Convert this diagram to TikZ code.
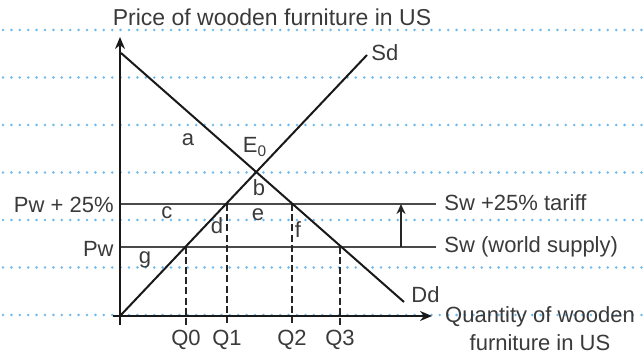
\documentclass[tikz,border=0pt]{standalone}
\usepackage{fontspec}
\setmainfont{Liberation Sans}
\usetikzlibrary{positioning,arrows.meta,calc}
\definecolor{DotBlue}{HTML}{6FB8EC}
\definecolor{InkGrey}{HTML}{3A3A3A}
\definecolor{PriceGrey}{HTML}{4A4A4A}

\begin{document}
\begin{tikzpicture}[
	x=0.5pt, y=-0.5pt,
	guide/.style={
		draw=DotBlue,
		line width=1.4pt,
		line cap=round,
		dash pattern=on 0pt off 4.2pt
	},
	curve/.style={
		draw=black!90,
		line width=1pt
	},
	axis/.style={
		draw=black!90,
		line width=0.9pt,
		-{Stealth[length=6pt,width=5pt]}
	},
	price/.style={
		draw=PriceGrey,
		line width=0.9pt
	},
	drop/.style={
		draw=black!85,
		line width=0.8pt,
		dash pattern=on 3.5pt off 1.6pt
	},
	lbl/.style={
		text=InkGrey,
		inner sep=1pt,
		font=\fontsize{11}{14}\selectfont
	}
	]
	
	\useasboundingbox (0,0) rectangle (644,358);
	
	% ruled background
	\foreach \gy in {30,77.5,125,172.5,220,267.5,315}
		\draw[guide] (3,\gy) -- (644,\gy);
	
	% points
	\coordinate (ybot) at (120,325);
	\coordinate (ytop) at (120,37);
	\coordinate (xleft) at (113,316);
	\coordinate (xright) at (432,316);
	\coordinate (origin) at (120,316);
	\coordinate (dtop) at (121,53);
	\coordinate (dbot) at (404,302);
	\coordinate (stop) at (367,55);
	\coordinate (pwl) at (120,246.7);
	\coordinate (pwr) at (436,246.7);
	\coordinate (ptl) at (120,204);
	\coordinate (ptr) at (436,204);
	\coordinate (q0top) at (186,246.7);
	\coordinate (q1top) at (227,204);
	\coordinate (q2top) at (292,204);
	\coordinate (q3top) at (340,246.7);
	\coordinate (q0bot) at (186,325);
	\coordinate (q1bot) at (227,325);
	\coordinate (q2bot) at (292,325);
	\coordinate (q3bot) at (340,325);
	\coordinate (liftbot) at (401,246.7);
	\coordinate (lifttop) at (401,204);
	
	% price levels
	\draw[price] (ptl) -- (ptr);
	\draw[price] (pwl) -- (pwr);
	\draw[-{Stealth[length=5pt,width=4.5pt]}, draw=black!85, line width=0.9pt] (liftbot) -- (lifttop);
	
	% quantities
	\draw[drop] (q0top) -- (q0bot);
	\draw[drop] (q1top) -- (q1bot);
	\draw[drop] (q2top) -- (q2bot);
	\draw[drop] (q3top) -- (q3bot);
	
	% axes
	\draw[axis] (ybot) -- (ytop);
	\draw[axis] (xleft) -- (xright);
	
	% demand and supply
	\draw[curve] (dtop) -- (dbot);
	\draw[curve] (origin) -- (stop);
	
	% labels
	\node[lbl, font=\fontsize{11.5}{14}\selectfont] (ylab) at (272,17) {Price of wooden furniture in US};
	\node[lbl, align=center] (xlab) at (540,329) {Quantity of wooden\\furniture in US};
	\node[lbl, anchor=west] (sdlab) at (369,53) {Sd};
	\node[lbl, anchor=west] (ddlab) at (409,295) {Dd};
	\node[lbl, anchor=east] (ptlab) at (116,205) {Pw + 25\%};
	\node[lbl, anchor=east] (pwlab) at (116,249) {Pw};
	\node[lbl, anchor=west] (swtlab) at (442,203) {Sw +25\% tariff};
	\node[lbl, anchor=west] (swlab) at (442,247) {Sw (world supply)};
	\node[lbl] (q0lab) at (186,340) {Q0};
	\node[lbl] (q1lab) at (227,340) {Q1};
	\node[lbl] (q2lab) at (292,340) {Q2};
	\node[lbl] (q3lab) at (340,340) {Q3};
	\node[lbl] (alab) at (188,140) {a};
	\node[lbl] (e0lab) at (255,147) {E\textsubscript{0}};
	\node[lbl] (blab) at (259,188) {b};
	\node[lbl] (clab) at (167,213) {c};
	\node[lbl] (dlab) at (217,226) {d};
	\node[lbl] (elab) at (258,215) {e};
	\node[lbl] (flab) at (298,230) {f};
	\node[lbl] (glab) at (145,260) {g};
	
\end{tikzpicture}
\end{document}
